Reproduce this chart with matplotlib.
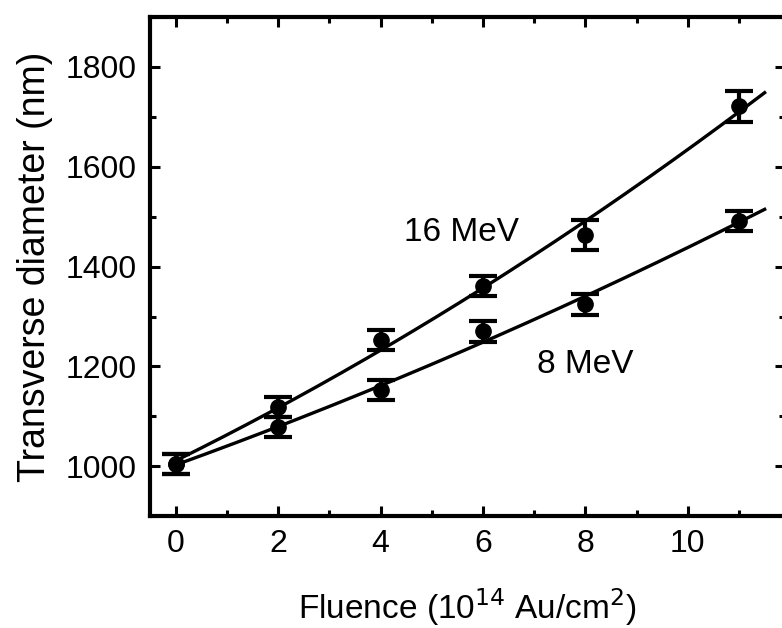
import numpy as np
import matplotlib.pyplot as plt
from matplotlib.ticker import MultipleLocator

plt.rcParams['font.family'] = ['Liberation Sans', 'DejaVu Sans']

# Fluence in units of 1e14 Au/cm^2
fluence = [0, 2, 4, 6, 8, 11]

# Transverse diameter (nm) and errors
d_16mev = [1004, 1118, 1252, 1361, 1463, 1721]
err_16mev = [20, 20, 20, 20, 30, 31]
d_8mev = [1004, 1078, 1153, 1270, 1325, 1492]
err_8mev = [20, 20, 20, 21, 21, 20]

fig = plt.figure(figsize=(7.82, 6.28), dpi=100)
ax = fig.add_axes([0.192, 0.178, 0.812, 0.795])

for d, e in [(d_16mev, err_16mev), (d_8mev, err_8mev)]:
    ax.errorbar(fluence, d, yerr=e, fmt='o', color='black', ms=11,
                capsize=10, capthick=3, elinewidth=3, zorder=3)
    # quadratic fit through the points
    coef = np.polyfit(fluence, d, 2)
    xf = np.linspace(0, 11.5, 200)
    ax.plot(xf, np.polyval(coef, xf), color='black', lw=2.4, zorder=2)

ax.text(4.45, 1468, '16 MeV', fontsize=24, va='center', ha='left')
ax.text(7.05, 1203, '8 MeV', fontsize=24, va='center', ha='left')

ax.set_xlim(-0.5, 11.9)
ax.set_ylim(900, 1900)
ax.xaxis.set_major_locator(MultipleLocator(2))
ax.xaxis.set_minor_locator(MultipleLocator(1))
ax.yaxis.set_major_locator(MultipleLocator(200))
ax.yaxis.set_minor_locator(MultipleLocator(100))
ax.tick_params(which='both', direction='in', top=True, right=True,
               width=2.2, labelsize=23)
ax.tick_params(axis='x', pad=9)
ax.tick_params(axis='y', pad=10)
ax.tick_params(which='major', length=7)
ax.tick_params(which='minor', length=4.5)
for s in ax.spines.values():
    s.set_linewidth(3)

ax.set_xlabel('Fluence (10$^{14}$ Au/cm$^{2}$)', fontsize=24, labelpad=20)
ax.set_ylabel('Transverse diameter (nm)', fontsize=27, labelpad=9)

fig.savefig('out.png', dpi=100)
